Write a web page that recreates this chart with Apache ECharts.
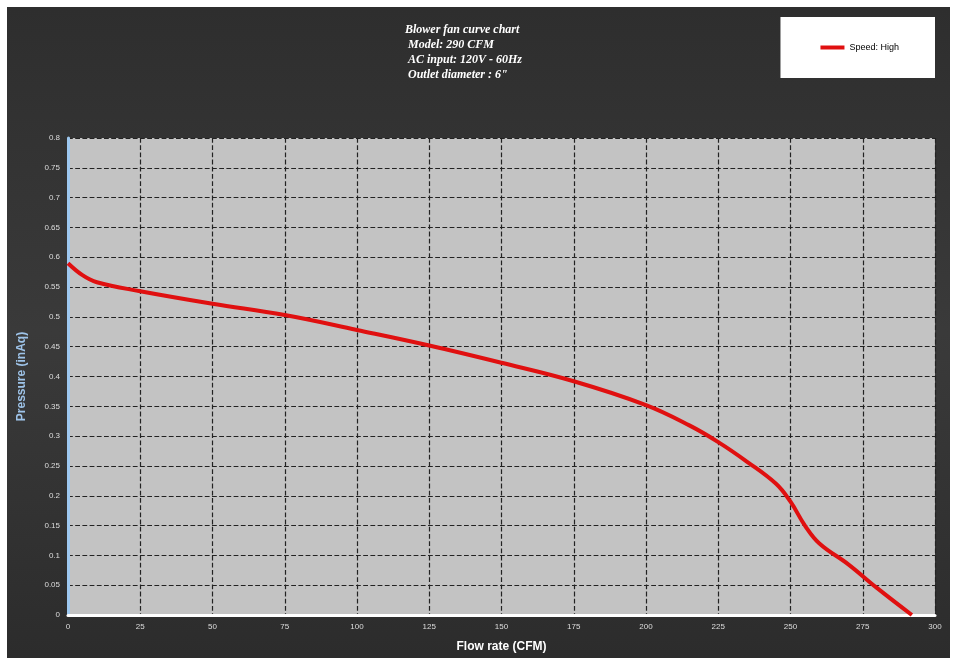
<!DOCTYPE html>
<html><head><meta charset="utf-8">
<script src="https://cdn.jsdelivr.net/npm/echarts@6/dist/echarts.min.js"></script>
<style>html,body{margin:0;padding:0;background:#fff}#c{position:absolute;left:7px;top:7px;width:943px;height:651px}</style>
</head><body><div id="c"></div>
<script>
const flow = [0,5,10,25,50,75,100,125,150,175,200,215,225,235,245,250,255,260,270,280,292];
const pressure = [0.59,0.57,0.558,0.543,0.522,0.503,0.478,0.452,0.423,0.392,0.352,0.318,0.29,0.257,0.22,0.19,0.15,0.12,0.085,0.045,0];
const yTicks = {0:'0',0.05:'0.05',0.1:'0.1',0.15:'0.15',0.2:'0.2',0.25:'0.25',0.3:'0.3',0.35:'0.35',0.4:'0.4',0.45:'0.45',0.5:'0.5',0.55:'0.55',0.6:'0.6',0.65:'0.65',0.7:'0.7',0.75:'0.75',0.8:'0.8'};
const titleLines = ['Blower fan curve chart',' Model: 290 CFM',' AC input: 120V - 60Hz',' Outlet diameter : 6"'];
const chart = echarts.init(document.getElementById('c'));
chart.setOption({
  backgroundColor: new echarts.graphic.LinearGradient(0,0,0,1,[{offset:0,color:'#2e2e2e'},{offset:0.5,color:'#3a3a3a'},{offset:1,color:'#2c2c2c'}]),
  title:{text:titleLines.join('\n'),left:393,top:10,textStyle:{color:'#fff',fontFamily:'Liberation Serif',fontStyle:'italic',fontWeight:'bold',fontSize:12,lineHeight:15}},
  legend:{right:15,top:10,padding:[26,36,26,40],backgroundColor:'#fff',icon:'rect',itemWidth:24,itemHeight:4,textStyle:{color:'#000',fontSize:9,fontFamily:'Liberation Sans'},data:['Speed: High']},
  grid:{left:61,right:15,top:131,bottom:43,containLabel:false,backgroundColor:'#c3c3c3',show:true,borderWidth:0},
  xAxis:{type:'value',min:0,max:300,interval:25,name:'Flow rate (CFM)',nameLocation:'middle',nameGap:26,
    nameTextStyle:{color:'#fff',fontWeight:'bold',fontSize:12,fontFamily:'Liberation Sans'},
    axisLine:{lineStyle:{color:'#fff',width:3}},axisTick:{show:false},
    axisLabel:{color:'#ddd',fontSize:8},splitLine:{lineStyle:{color:'#222',type:'dashed',width:1.2}}},
  yAxis:{type:'value',min:0,max:0.8,interval:0.05,name:'Pressure (inAq)',nameLocation:'middle',nameGap:40,
    nameTextStyle:{color:'#9ec3e8',fontWeight:'bold',fontSize:12,fontFamily:'Liberation Sans'},
    axisLine:{show:true,lineStyle:{color:'#9ec8f0',width:3}},axisTick:{show:false},
    axisLabel:{color:'#ddd',fontSize:8,formatter:v=>yTicks[Math.round(v*100)/100]??''},
    splitLine:{lineStyle:{color:'#222',type:'dashed',width:1.2}}},
  series:[{name:'Speed: High',type:'line',smooth:0.4,symbol:'none',data:flow.map((x,i)=>[x,pressure[i]]),lineStyle:{color:'#e01010',width:4},itemStyle:{color:'#e01010'}}]
});
</script></body></html>
